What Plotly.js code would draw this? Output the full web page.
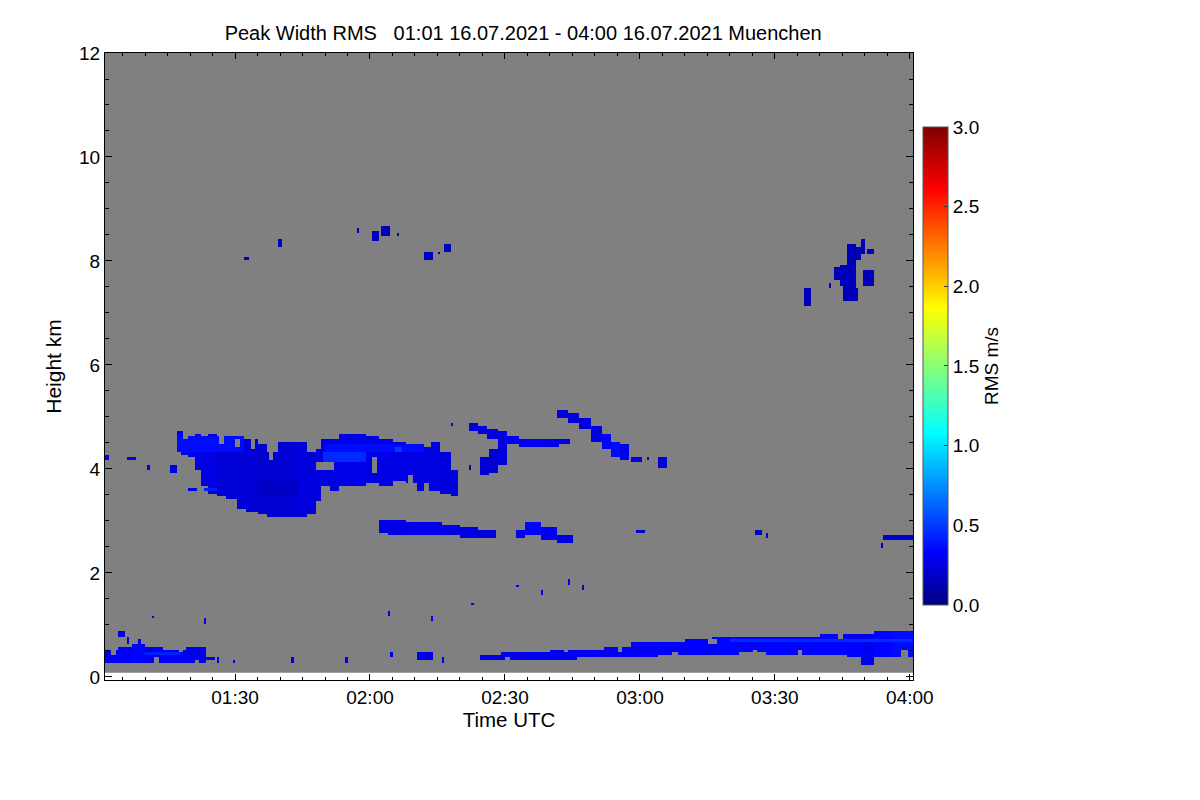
<!DOCTYPE html>
<html>
<head>
<meta charset="utf-8">
<script src="https://cdn.plot.ly/plotly-3.0.1.min.js"></script>
<style>
  body { margin: 0; background: white; }
  #chart { width: 1200px; height: 800px; }
</style>
</head>
<body>
<div id="chart"></div>
<script>
// time in minutes after 00:00 UTC, height in km, value = RMS m/s
// each row: [time from, time to, height from, height to, rms]  (rms null = no signal)
const timeTickVals = [90, 120, 150, 180, 210, 240];
const timeTickText = ["01:30", "02:00", "02:30", "03:00", "03:30", "04:00"];
const heightTickVals = [0, 2, 4, 6, 8, 10, 12];
const rmsTickVals = [0, 0.5, 1.0, 1.5, 2.0, 2.5, 3.0];

const timeStart = 61.0, timeEnd = 241.0, timeStep = 0.5;
const heightStart = 0.08, heightEnd = 12.0, heightStep = 0.05;

const boundaryLeft = [
  [61.0, 64.0, 0.29, 0.52, 0.30], [64.0, 67.0, 0.27, 0.60, 0.32], [67.0, 70.0, 0.27, 0.65, 0.34],
  [70.0, 74.0, 0.29, 0.56, 0.30], [74.0, 79.0, 0.30, 0.55, 0.32], [79.0, 83.3, 0.29, 0.60, 0.30],
  [83.3, 85.5, 0.33, 0.40, 0.26], [64.0, 65.5, 0.80, 0.87, 0.24], [66.0, 66.5, 0.62, 0.76, 0.28],
  [68.5, 69.0, 0.62, 0.72, 0.28], [70.0, 78.0, 0.42, 0.46, 0.42],
  [62.5, 63.5, 0.45, 0.52, null], [72.0, 73.0, 0.29, 0.36, null], [77.5, 78.5, 0.48, 0.55, null],
  [81.0, 82.0, 0.29, 0.34, null]
];
const boundaryRight = [
  [144.4, 148.9, 0.33, 0.42, 0.26], [148.9, 155.0, 0.31, 0.46, 0.28], [155.0, 160.0, 0.33, 0.50, 0.30],
  [160.0, 166.0, 0.35, 0.52, 0.30], [166.0, 172.0, 0.36, 0.55, 0.32], [172.0, 178.0, 0.38, 0.60, 0.32],
  [178.0, 184.0, 0.40, 0.67, 0.32], [184.0, 190.0, 0.42, 0.70, 0.33], [190.0, 196.0, 0.45, 0.75, 0.33],
  [196.0, 202.0, 0.45, 0.77, 0.34], [202.0, 208.0, 0.47, 0.79, 0.34], [208.0, 214.0, 0.45, 0.80, 0.34],
  [214.0, 220.0, 0.44, 0.80, 0.34], [220.0, 226.0, 0.42, 0.81, 0.34], [226.0, 229.0, 0.40, 0.84, 0.33],
  [229.0, 232.0, 0.24, 0.85, 0.30], [232.0, 236.0, 0.40, 0.86, 0.34], [236.0, 241.0, 0.38, 0.90, 0.36],
  [178.0, 230.0, 0.56, 0.59, 0.48], [200.0, 241.0, 0.70, 0.73, 0.46], [160.0, 200.0, 0.46, 0.49, 0.42],
  [150.0, 151.0, 0.31, 0.38, null], [163.0, 164.0, 0.46, 0.52, null], [175.0, 176.0, 0.50, 0.60, null],
  [187.0, 188.5, 0.42, 0.50, null], [195.0, 197.0, 0.64, 0.75, null], [205.0, 206.0, 0.47, 0.53, null],
  [215.0, 216.0, 0.44, 0.52, null], [224.0, 225.0, 0.74, 0.81, null], [238.0, 239.5, 0.38, 0.52, null]
];
const boundaryBits = [
  [130.4, 134.0, 0.35, 0.48, 0.26], [136.0, 136.5, 0.30, 0.36, 0.26], [86.0, 86.5, 0.30, 0.36, 0.26],
  [89.5, 90.0, 0.28, 0.33, 0.26], [102.5, 103.0, 0.30, 0.36, 0.26], [114.7, 115.2, 0.30, 0.36, 0.26],
  [124.7, 125.2, 0.40, 0.46, 0.26]
];
const mainCloud = [
  [77.2, 78.2, 4.44, 4.75, 0.32], [78.2, 79.7, 4.30, 4.72, 0.30], [79.7, 81.2, 4.21, 4.65, 0.30],
  [81.2, 82.6, 3.98, 4.69, 0.28], [82.6, 84.0, 3.66, 4.62, 0.25], [84.0, 85.9, 3.54, 4.69, 0.25],
  [85.9, 88.1, 3.50, 4.65, 0.23], [88.1, 90.4, 3.44, 4.65, 0.23], [90.4, 92.6, 3.25, 4.59, 0.22],
  [92.6, 94.8, 3.17, 4.56, 0.22], [94.8, 97.0, 3.12, 4.50, 0.21], [97.0, 99.3, 3.08, 4.31, 0.21],
  [99.3, 101.5, 3.08, 4.52, 0.22], [101.5, 103.7, 3.06, 4.52, 0.22], [103.7, 105.9, 3.08, 4.52, 0.24],
  [105.9, 107.8, 3.12, 4.33, 0.24], [107.8, 109.2, 3.40, 4.37, 0.25], [109.2, 110.8, 3.66, 4.60, 0.26],
  [110.8, 113.0, 3.60, 4.60, 0.26], [113.0, 115.9, 3.69, 4.69, 0.27], [115.9, 118.9, 3.66, 4.69, 0.27],
  [118.9, 121.8, 3.73, 4.65, 0.27], [121.8, 124.8, 3.69, 4.60, 0.26], [124.8, 127.8, 3.79, 4.52, 0.26],
  [127.8, 130.7, 3.73, 4.46, 0.26], [130.7, 133.3, 3.60, 4.43, 0.25], [133.3, 135.5, 3.56, 4.52, 0.25],
  [135.5, 137.8, 3.54, 4.31, 0.24], [137.8, 139.6, 3.47, 3.98, 0.24]
];
const mainCloudDetail = [
  [77.2, 92.0, 4.35, 4.62, 0.36], [83.0, 86.0, 3.56, 3.65, 0.42], [109.3, 118.9, 4.12, 4.31, 0.45],
  [110.0, 132.0, 4.31, 4.50, 0.36], [125.5, 127.0, 4.35, 4.45, 0.50], [95.0, 104.0, 3.50, 3.80, 0.18],
  [108.0, 112.0, 3.98, 4.13, null], [120.5, 121.5, 3.95, 4.25, null], [78.5, 79.5, 4.58, 4.75, null],
  [97.5, 98.5, 4.20, 4.40, null], [106.5, 107.5, 4.40, 4.55, null], [132.0, 133.0, 3.60, 3.75, null],
  [86.5, 87.5, 4.50, 4.65, null], [90.0, 91.0, 4.45, 4.59, null], [93.5, 94.5, 4.40, 4.56, null],
  [128.5, 129.5, 3.73, 3.90, null]
];
const smallBlobs4km = [
  [61.0, 62.0, 4.18, 4.26, 0.28], [66.0, 68.0, 4.17, 4.25, 0.28], [70.3, 70.9, 4.00, 4.08, 0.28],
  [75.6, 76.8, 3.92, 4.08, 0.26], [79.6, 81.6, 3.56, 3.65, 0.26], [138.0, 138.5, 4.82, 4.88, 0.22],
  [142.2, 142.7, 4.00, 4.06, 0.22]
];
const cloudEast = [
  [142.2, 144.0, 4.73, 4.86, 0.24], [144.0, 146.0, 4.66, 4.85, 0.24], [146.0, 148.4, 4.60, 4.80, 0.26],
  [148.4, 150.5, 4.53, 4.72, 0.28], [150.5, 153.0, 4.48, 4.65, 0.32], [153.0, 156.0, 4.45, 4.58, 0.30],
  [156.0, 159.0, 4.45, 4.57, 0.28], [159.0, 162.0, 4.44, 4.56, 0.26], [162.0, 164.5, 4.46, 4.56, 0.26],
  [144.4, 146.5, 3.88, 4.25, 0.22], [146.5, 148.3, 3.92, 4.40, 0.22], [148.3, 150.5, 4.10, 4.60, 0.24]
];
const cloudHigh5km = [
  [161.6, 164.0, 4.98, 5.15, 0.24], [164.0, 166.5, 4.90, 5.08, 0.24], [166.5, 169.0, 4.78, 4.98, 0.24],
  [169.0, 171.3, 4.55, 4.85, 0.26], [171.3, 173.3, 4.40, 4.68, 0.34], [173.3, 175.5, 4.25, 4.55, 0.36],
  [175.5, 177.3, 4.17, 4.50, 0.30], [177.8, 180.7, 4.12, 4.23, 0.26], [181.6, 182.1, 4.17, 4.23, 0.24],
  [183.8, 186.0, 4.02, 4.25, 0.24]
];
const layer3km = [
  [121.8, 124.0, 2.80, 3.05, 0.26], [124.0, 128.0, 2.75, 3.03, 0.26], [128.0, 132.0, 2.75, 3.00, 0.28],
  [132.0, 136.0, 2.72, 2.97, 0.28], [136.0, 140.0, 2.72, 2.93, 0.26], [140.0, 144.0, 2.70, 2.90, 0.26],
  [144.0, 148.2, 2.70, 2.84, 0.24],
  [152.7, 154.5, 2.70, 2.85, 0.28], [154.5, 158.0, 2.72, 2.98, 0.34], [158.0, 161.5, 2.65, 2.88, 0.30],
  [161.5, 165.1, 2.60, 2.75, 0.26],
  [179.0, 181.0, 2.77, 2.85, 0.20], [205.6, 207.0, 2.71, 2.81, 0.20], [208.0, 208.5, 2.70, 2.78, 0.20],
  [234.0, 241.0, 2.62, 2.72, 0.22], [233.3, 234.0, 2.46, 2.56, 0.22]
];
const scatterDots = [
  [71.4, 71.9, 1.12, 1.18, 0.28], [82.9, 83.4, 1.05, 1.11, 0.28], [124.2, 124.7, 1.20, 1.28, 0.28],
  [133.6, 134.1, 1.10, 1.16, 0.28], [142.5, 143.0, 1.37, 1.43, 0.28], [152.7, 153.2, 1.74, 1.80, 0.28],
  [157.8, 158.3, 1.60, 1.66, 0.28], [164.0, 164.5, 1.78, 1.87, 0.28], [166.9, 167.4, 1.70, 1.80, 0.28]
];
const cirrus8km = [
  [92.2, 93.1, 8.01, 8.10, 0.16], [99.3, 100.4, 8.29, 8.45, 0.16], [116.9, 117.4, 8.54, 8.64, 0.16],
  [120.7, 121.9, 8.39, 8.60, 0.16], [122.5, 124.4, 8.50, 8.69, 0.16], [126.0, 126.5, 8.46, 8.51, 0.16],
  [132.2, 133.8, 8.01, 8.19, 0.16], [135.0, 135.6, 8.13, 8.19, 0.16], [136.4, 137.8, 8.16, 8.31, 0.16]
];
const cirrusLate = [
  [216.4, 218.0, 7.13, 7.46, 0.15], [221.8, 222.5, 7.50, 7.60, 0.15], [222.9, 224.5, 7.62, 7.90, 0.15],
  [224.5, 225.1, 7.55, 7.95, 0.15], [225.1, 226.0, 7.21, 7.95, 0.15], [226.0, 227.8, 7.21, 8.31, 0.15],
  [227.8, 228.3, 7.21, 7.50, 0.15], [227.8, 229.0, 8.02, 8.30, 0.15], [229.0, 230.0, 8.15, 8.44, 0.15],
  [229.6, 231.8, 7.54, 7.85, 0.15], [230.5, 232.0, 8.15, 8.21, 0.15]
];

// build the grid for the heatmap
const xs = [], ys = [];
for (let t = timeStart + timeStep / 2; t < timeEnd; t += timeStep) xs.push(t);
for (let h = heightStart + heightStep / 2; h < heightEnd; h += heightStep) ys.push(h);
const z = ys.map(() => xs.map(() => null));

function paint(rows) {
  rows.forEach(function (r) {
    for (let i = 0; i < xs.length; i++) {
      if (xs[i] < r[0] || xs[i] >= r[1]) continue;
      for (let j = 0; j < ys.length; j++) {
        if (ys[j] >= r[2] && ys[j] <= r[3]) z[j][i] = r[4];
      }
    }
  });
}
[boundaryLeft, boundaryRight, boundaryBits, mainCloud, mainCloudDetail, smallBlobs4km,
 cloudEast, cloudHigh5km, layer3km, scatterDots, cirrus8km, cirrusLate].forEach(paint);

const jet = [
  [0, "rgb(0,0,128)"], [0.11, "rgb(0,0,255)"], [0.36, "rgb(0,255,255)"],
  [0.62, "rgb(255,255,0)"], [0.87, "rgb(255,0,0)"], [1, "rgb(128,0,0)"]
];

const data = [{
  type: "heatmap",
  x: xs, y: ys, z: z,
  zmin: 0, zmax: 3,
  colorscale: jet,
  hoverinfo: "skip",
  colorbar: {
    x: 1.0124, xanchor: "left", xpad: 0,
    y: 0.5008, yanchor: "middle", ypad: 0,
    thickness: 25, thicknessmode: "pixels",
    len: 478, lenmode: "pixels",
    outlinewidth: 1, outlinecolor: "#555",
    tickmode: "array", tickvals: rmsTickVals, tickformat: ".1f",
    ticks: "inside", ticklen: 4, tickcolor: "#333",
    tickfont: {size: 19},
    title: {text: "RMS m/s", side: "right", font: {size: 19}}
  }
}];

const layout = {
  width: 1200, height: 800,
  margin: {l: 105, r: 287, t: 53, b: 120},
  paper_bgcolor: "white", plot_bgcolor: "white",
  font: {family: "Liberation Sans, Arial, sans-serif", size: 19, color: "black"},
  title: {
    text: "Peak Width RMS\u00a0\u00a0\u00a001:01 16.07.2021 - 04:00 16.07.2021 Muenchen",
    font: {size: 20},
    xref: "container", x: 0.436, xanchor: "center",
    yref: "container", y: 0.959, yanchor: "middle"
  },
  xaxis: {
    range: [61.1, 240.7],
    tickmode: "array", tickvals: timeTickVals, ticktext: timeTickText,
    ticks: "inside", ticklen: 6, tickcolor: "black",
    showline: true, linecolor: "black", linewidth: 1, mirror: "ticks",
    showgrid: false, zeroline: false,
    minor: {tickmode: "linear", tick0: 0, dtick: 5, ticks: "inside", ticklen: 3, tickcolor: "black"},
    title: {text: "Time UTC", standoff: 2, font: {size: 20.5}}
  },
  yaxis: {
    range: [-0.06, 12],
    tickmode: "array", tickvals: heightTickVals,
    ticks: "inside", ticklen: 7, tickcolor: "black",
    showline: true, linecolor: "black", linewidth: 1, mirror: "ticks",
    showgrid: false, zeroline: false,
    minor: {tickmode: "linear", tick0: 0, dtick: 0.5, ticks: "inside", ticklen: 4, tickcolor: "black"},
    title: {text: "Height km", standoff: 11, font: {size: 21}}
  },
  shapes: [{
    type: "rect", layer: "below",
    xref: "paper", x0: 0, x1: 1,
    yref: "y", y0: heightStart, y1: heightEnd,
    fillcolor: "#808080", line: {width: 0}
  }]
};

Plotly.newPlot("chart", data, layout, {displayModeBar: false, staticPlot: true});
</script>
</body>
</html>
